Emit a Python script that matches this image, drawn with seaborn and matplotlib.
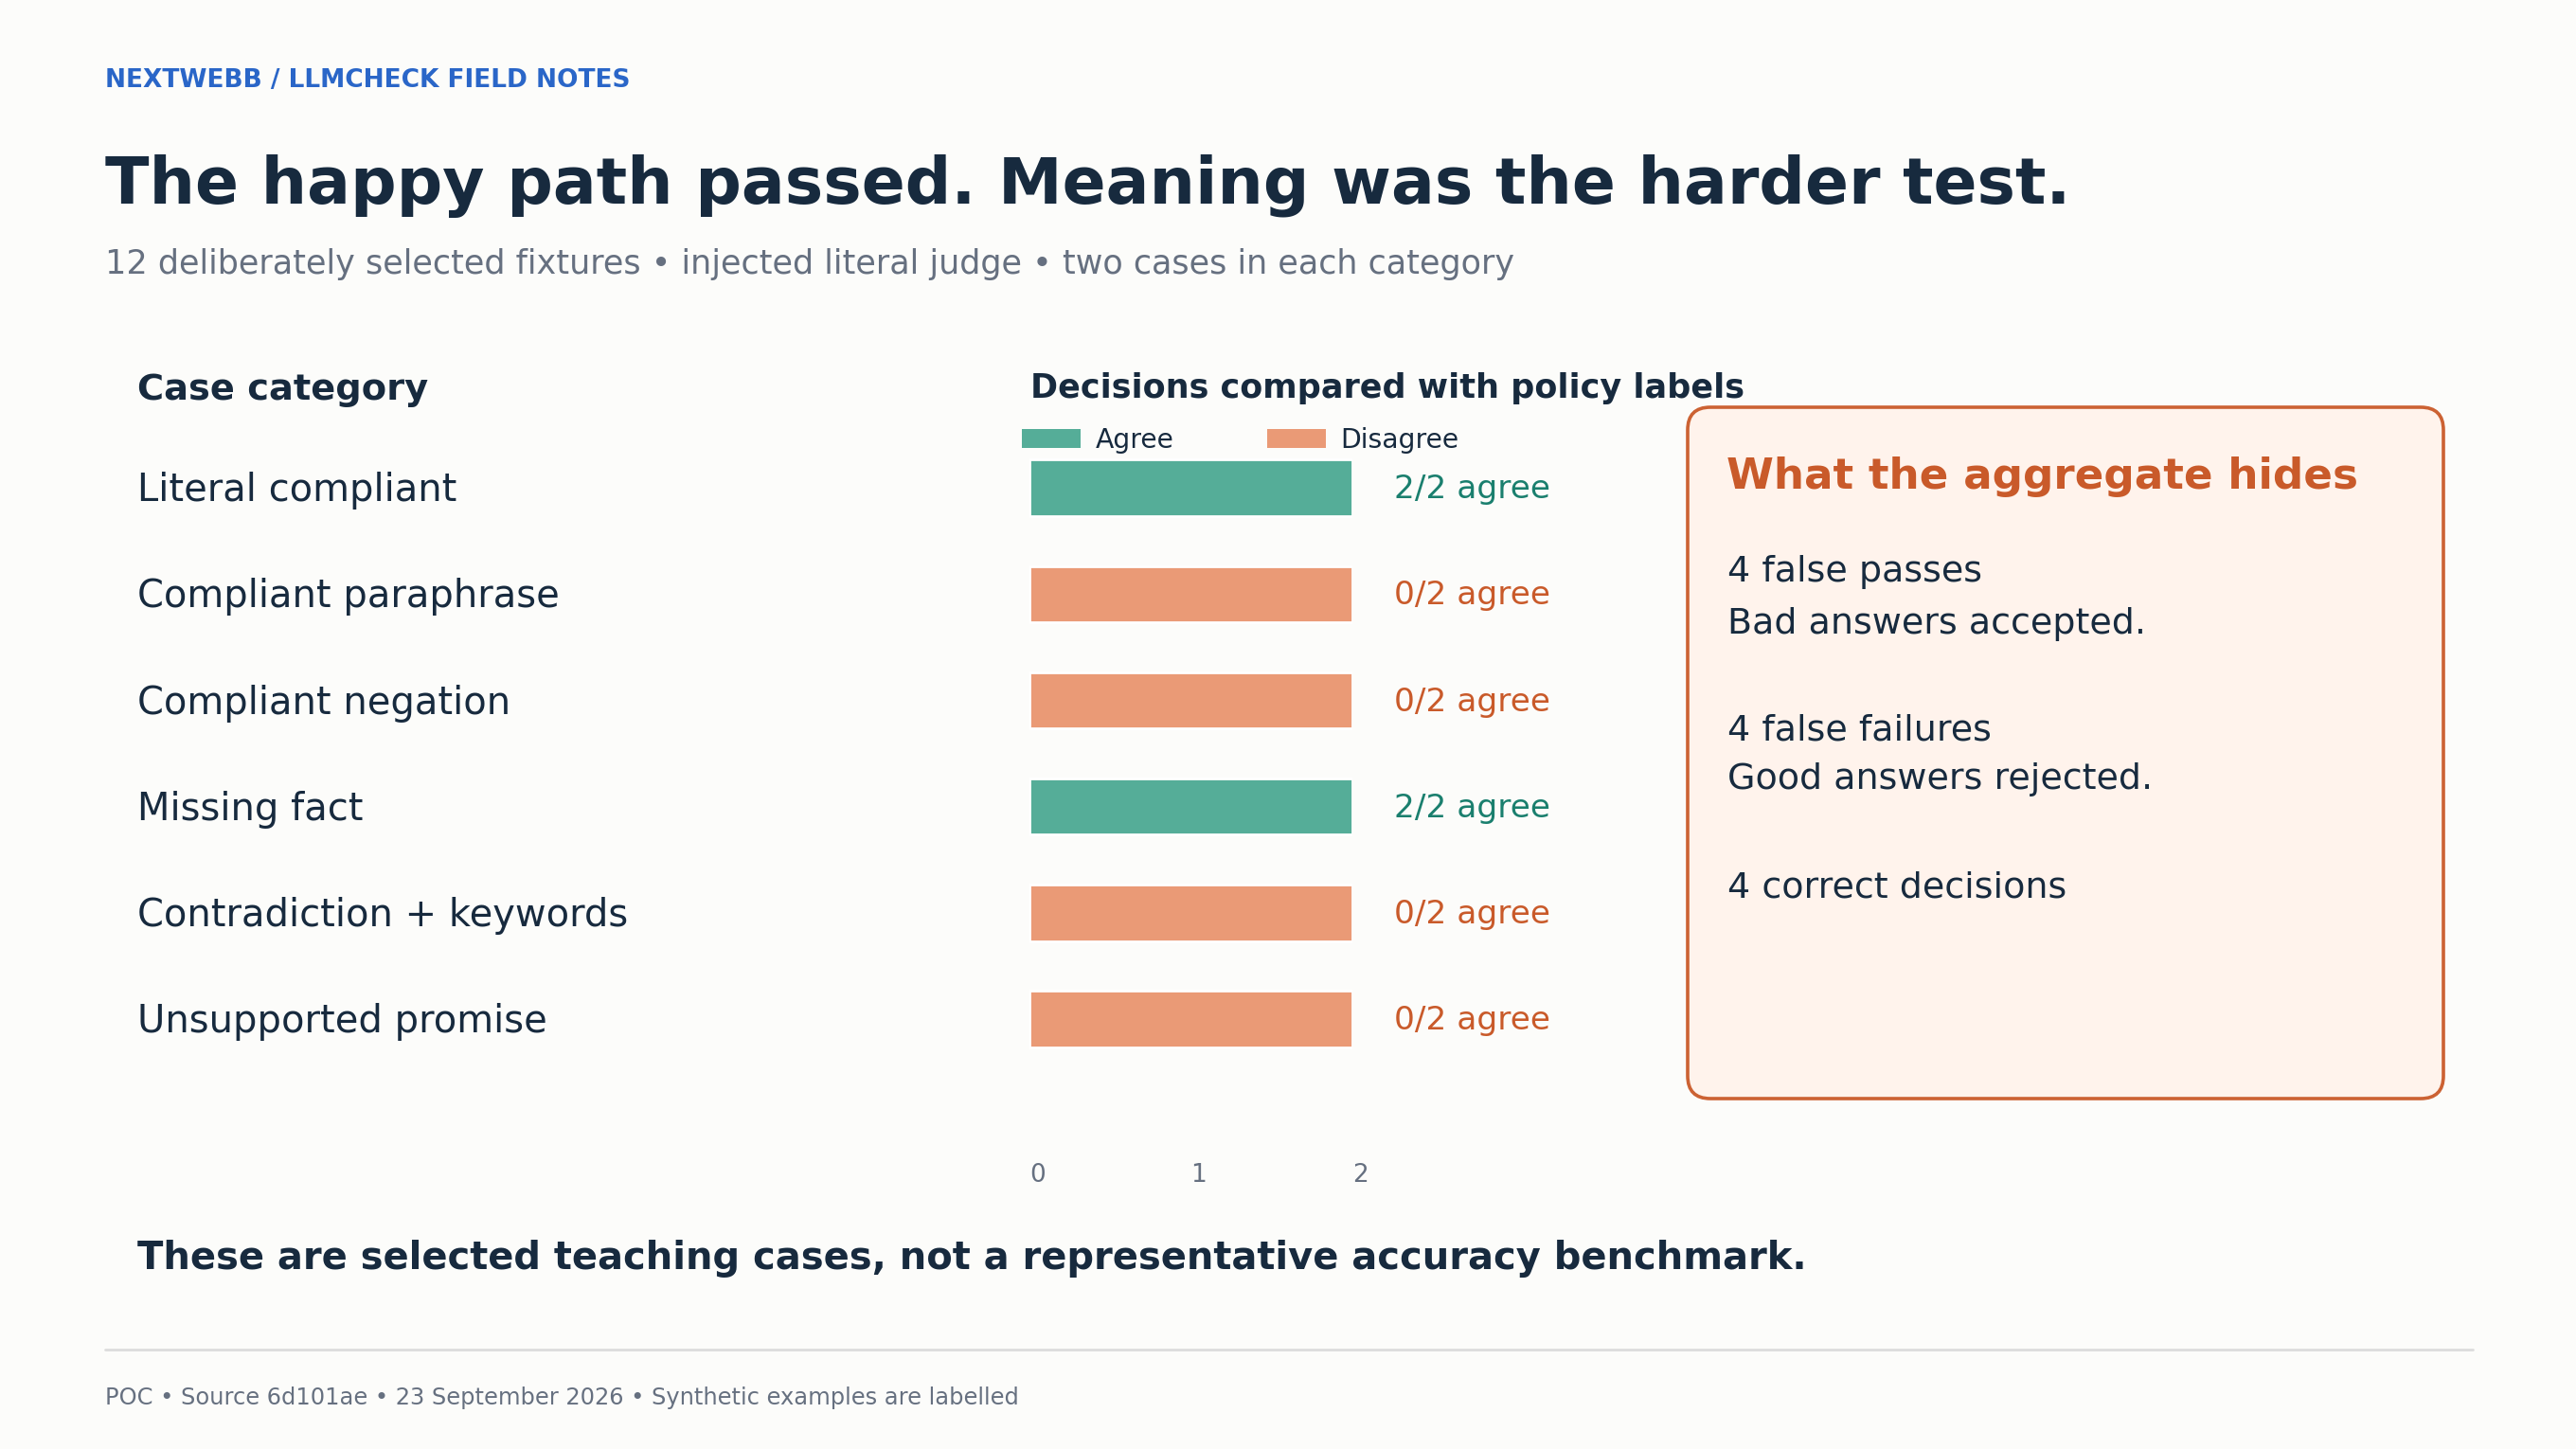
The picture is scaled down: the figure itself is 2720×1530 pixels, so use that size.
import pandas as pd
import seaborn as sns
import matplotlib.pyplot as plt
import matplotlib.transforms as mtransforms
from matplotlib.patches import FancyBboxPatch, Patch
from matplotlib.lines import Line2D

# data
categories = ["Literal compliant", "Compliant paraphrase", "Compliant negation",
              "Missing fact", "Contradiction + keywords", "Unsupported promise"]
agree_counts = [2, 0, 0, 2, 0, 0]
case_counts = [2, 2, 2, 2, 2, 2]
tick_values = [0, 1, 2]

box_lines = [
    ("4 false passes", 614),
    ("Bad answers accepted.", 669),
    ("4 false failures", 782),
    ("Good answers rejected.", 833),
    ("4 correct decisions", 947),
]

NAVY = "#172a3e"
GRAY = "#667080"
BLUE = "#2a66c8"
AGREE_BAR = "#55ad98"
DISAGREE_BAR = "#ea9a76"
AGREE_TXT = "#1a7f6e"
DISAGREE_TXT = "#c95a2a"
BG = "#fcfcfa"

W, H = 2720, 1530


def fx(px):
    return px / W


def fy(py):
    return 1 - py / H


data = pd.DataFrame({"category": categories, "agree": agree_counts, "cases": case_counts})
data["result"] = ["Agree" if a == c else "Disagree" for a, c in zip(data["agree"], data["cases"])]

sns.set_theme(style="white")
plt.rcParams["font.family"] = ["DejaVu Sans"]

fig = plt.figure(figsize=(13.6, 7.65), dpi=200, facecolor=BG)

# header
fig.text(fx(111), fy(92), "NEXTWEBB / LLMCHECK FIELD NOTES", fontsize=9.5, fontweight="bold",
         color=BLUE, va="baseline")
fig.text(fx(111), fy(215), "The happy path passed. Meaning was the harder test.", fontsize=24.5,
         fontweight="bold", color=NAVY, va="baseline")
fig.text(fx(111), fy(289), "12 deliberately selected fixtures \u2022 injected literal judge \u2022 two cases in each category",
         fontsize=12.6, color=GRAY, va="baseline")
fig.text(fx(145), fy(422), "Case category", fontsize=13.8, fontweight="bold", color=NAVY, va="baseline")
fig.text(fx(1088), fy(420), "Decisions compared with policy labels", fontsize=12.6,
         fontweight="bold", color=NAVY, va="baseline")

# bars
ax = fig.add_axes([fx(1087), fy(1222), fx(1428) - fx(1087), (1222 - 459) / H])
ax.set_facecolor("none")
sns.barplot(data=data, x="cases", y="category", hue="result", orient="h", dodge=False,
            palette={"Agree": AGREE_BAR, "Disagree": DISAGREE_BAR}, width=0.53,
            saturation=1, legend=False, ax=ax)
ax.set_xlim(0, 2)
ax.set_ylim(6.3, -0.5)
sns.despine(ax=ax, left=True, bottom=True)
ax.set_xlabel("")
ax.set_ylabel("")
ax.set_yticks([])
ax.set_xticks(tick_values)
ax.set_xticklabels([str(t) for t in tick_values], ha="left")
ax.tick_params(axis="x", length=0, pad=2, labelsize=9.5, labelcolor=GRAY)

# category labels on the left
label_tr = mtransforms.blended_transform_factory(fig.transFigure, ax.transData)
label_tr = mtransforms.offset_copy(label_tr, fig=fig, x=0, y=-14, units="dots")
for i, row in data.iterrows():
    fig.text(fx(145), i, row["category"], transform=label_tr, fontsize=14.4, color=NAVY,
             va="baseline")
    txt_col = AGREE_TXT if row["result"] == "Agree" else DISAGREE_TXT
    ax.annotate(f"{row['agree']}/{row['cases']} agree", xy=(row["cases"], i),
                xytext=(15.8, -4.0), textcoords="offset points", va="baseline",
                fontsize=12.4, color=txt_col, annotation_clip=False)

handles = [Patch(facecolor=AGREE_BAR, edgecolor="none"), Patch(facecolor=DISAGREE_BAR, edgecolor="none")]
leg = ax.legend(handles, ["Agree", "Disagree"], loc="center left",
                bbox_to_anchor=(fx(1079), fy(465)), bbox_transform=fig.transFigure,
                ncol=2, frameon=False, fontsize=10.2, handlelength=2.2, handleheight=0.7,
                handletextpad=0.55, columnspacing=3.45, borderpad=0, borderaxespad=0)
for t in leg.get_texts():
    t.set_color(NAVY)

# side panel
box = FancyBboxPatch((1782, H - 1160), 2580 - 1782, 1160 - 430,
                     boxstyle="round,pad=0,rounding_size=24",
                     transform=mtransforms.IdentityTransform(),
                     facecolor="#fff3ec", edgecolor="#cc6233", linewidth=1.3, zorder=0)
fig.add_artist(box)
fig.text(fx(1823), fy(516), "What the aggregate hides", fontsize=16.3, fontweight="bold",
         color=DISAGREE_TXT, va="baseline")
for line, y in box_lines:
    fig.text(fx(1824), fy(y), line, fontsize=13.7, color=NAVY, va="baseline")

# bottom note + footer
fig.text(fx(145), fy(1340), "These are selected teaching cases, not a representative accuracy benchmark.",
         fontsize=14.4, fontweight="bold", color=NAVY, va="baseline")
fig.add_artist(Line2D([fx(111), fx(2611)], [fy(1425), fy(1425)], transform=fig.transFigure,
                      color="#dcdcdc", linewidth=1))
fig.text(fx(111), fy(1483), "POC \u2022 Source 6d101ae \u2022 23 September 2026 \u2022 Synthetic examples are labelled",
         fontsize=8.7, color=GRAY, va="baseline")

fig.savefig("out.png", dpi=200, facecolor=BG)
